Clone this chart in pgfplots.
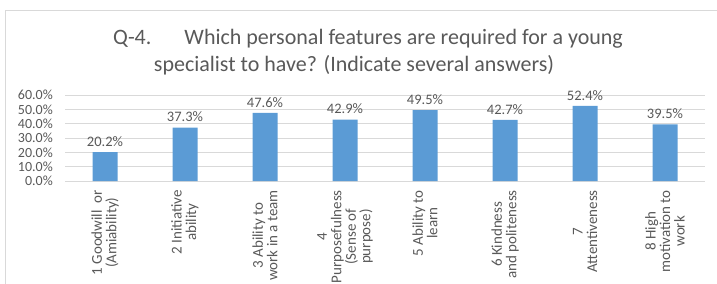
\documentclass[border=0pt]{standalone}
\usepackage{pgfplots}
\pgfplotsset{compat=1.18}
\usepackage{fontspec}
\setmainfont{Carlito}
\definecolor{barblue}{HTML}{5B9BD5}
\definecolor{txtgray}{HTML}{595959}
\definecolor{gridgray}{HTML}{D9D9D9}
\begin{document}
\begin{tikzpicture}
\useasboundingbox (0,0) rectangle (717bp,284bp);
\draw[gridgray, line width=0.8bp] (5bp,0) -- (5bp,274bp) -- (717bp,274bp);
\node[anchor=base west, text=txtgray, font=\fontsize{22bp}{26bp}\selectfont, inner sep=0pt] at (113bp,239bp) {Q-4.\hspace{33bp}Which personal features are required for a young};
\node[anchor=base, text=txtgray, font=\fontsize{22bp}{26bp}\selectfont, inner sep=0pt] at (354bp,212bp) {specialist to have? (Indicate several answers)};
\begin{axis}[
  at={(65bp,103bp)}, anchor=south west,
  scale only axis, width=640bp, height=86bp,
  xmin=-0.5, xmax=7.5, ymin=0, ymax=60,
  ytick={0,10,...,60},
  xtick={0,...,7},
  xticklabels={{1 Goodwill\ \ or\\(Amiability)},{2 Initiative\\ability},{3 Ability to\\work in a team},{4\\Purposefulness\\(Sense of\\purpose)},{5 Ability to\\learn},{6 Kindness\\and politeness},{7\\Attentiveness},{8 High\\motivation to\\work}},
  /pgf/number format/assume math mode=true,
  yticklabel={\pgfmathprintnumber[fixed,fixed zerofill,precision=1]{\tick}\%},
  yticklabel style={font=\fontsize{14bp}{16bp}\selectfont, text=txtgray, inner sep=0pt, xshift=-12bp},
  xticklabel style={rotate=90, anchor=east, align=center, font=\fontsize{15bp}{14.5bp}\selectfont, text=txtgray, inner sep=0pt, xshift=-9bp},
  axis line style={draw=none},
  major tick length=0pt,
  ymajorgrids, grid style={gridgray, line width=0.8bp},
  ybar, bar width=25bp, bar shift=0pt,
  nodes near coords={\pgfmathprintnumber[fixed,fixed zerofill,precision=1]{\pgfplotspointmeta}\%},
  nodes near coords style={font=\fontsize{14.5bp}{16bp}\selectfont, text=txtgray, yshift=2bp},
  clip=false,
]
\addplot[fill=barblue, draw=none] coordinates {(0,20.2) (1,37.3) (2,47.6) (3,42.9) (4,49.5) (5,42.7) (6,52.4) (7,39.5)};
\end{axis}
\end{tikzpicture}
\end{document}
